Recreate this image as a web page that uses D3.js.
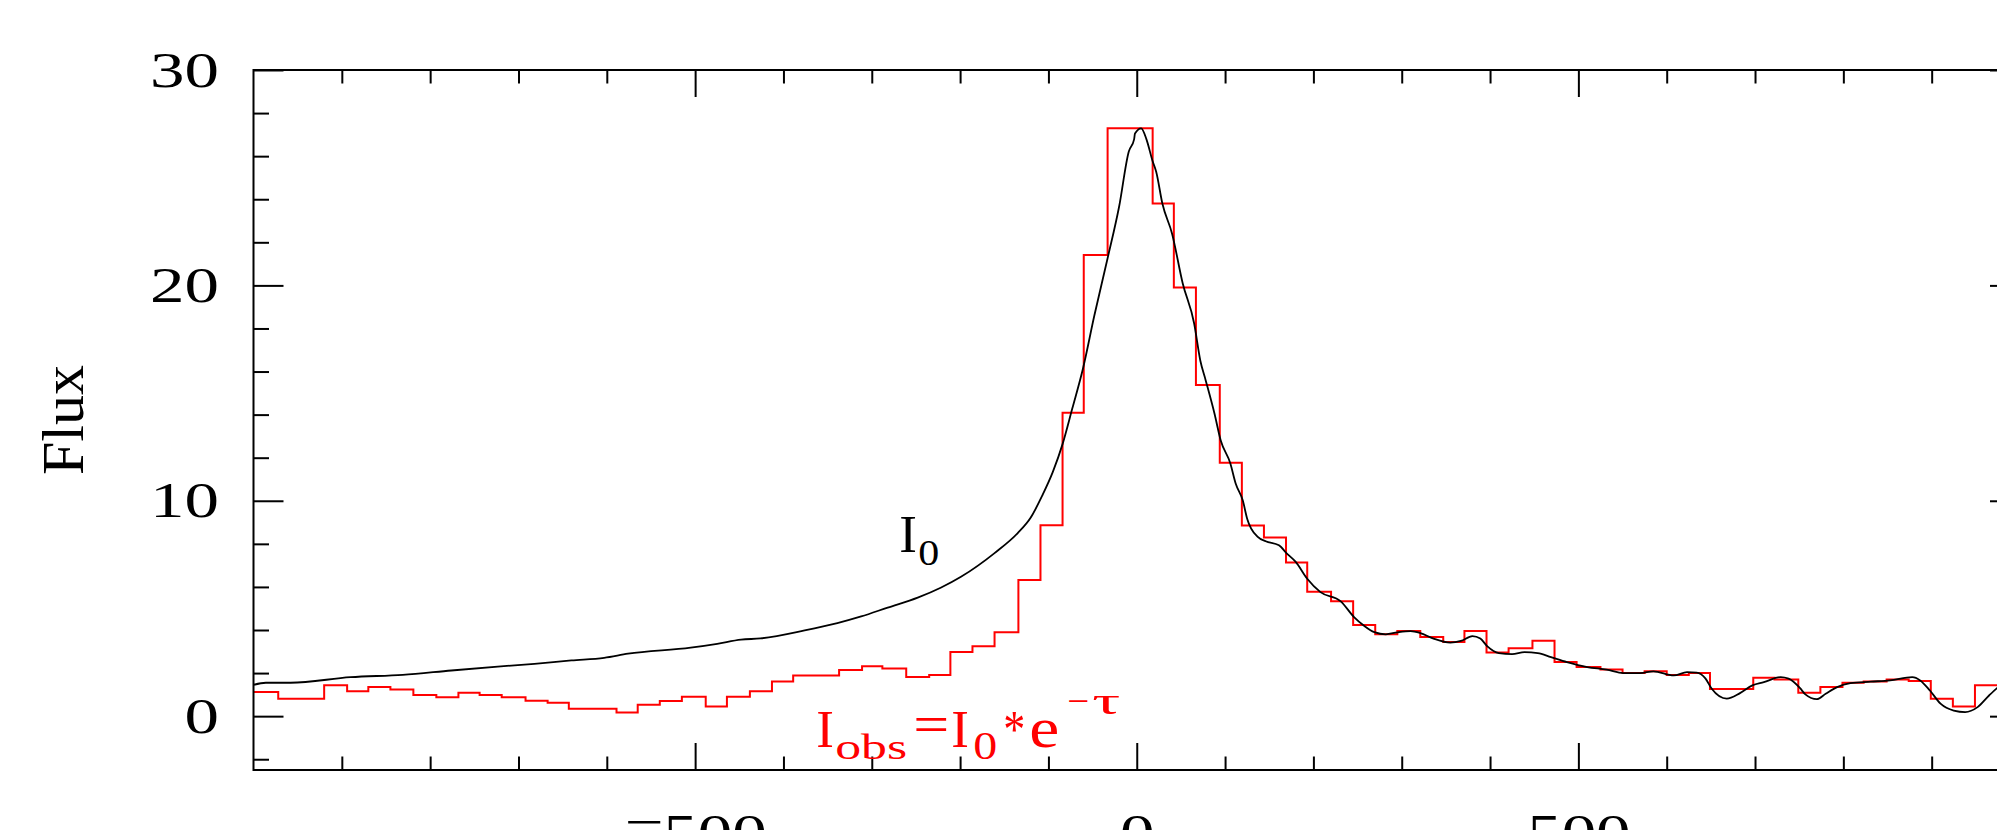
<!DOCTYPE html>
<html>
<head>
<meta charset="UTF-8">
<title>Flux profile</title>
<script src="https://d3js.org/d3.v7.min.js"></script>
<style>
  body { margin: 0; padding: 0; background: #fff; overflow: hidden; }
  svg { display: block; }
  .axis text { font-family: "Liberation Serif", serif; fill: #000; }
  .axis line { stroke: #000; stroke-width: 2; }
  .axis .domain { display: none; }
  .lbl { font-family: "Liberation Serif", serif; }
</style>
</head>
<body>
<svg id="chart"></svg>
<script>
// intrinsic profile I0 (black curve): velocity, flux
var velI0 = [-1000, -986, -958, -890, -831, -776, -720, -682, -640, -603, -576, -505, -475, -448, -426,
  -376, -339, -312, -282, -248, -222, -199, -161, -135, -120, -107, -95, -84, -73, -61, -48, -33, -20,
  -9, -3, -2, 5, 11, 18, 22, 29, 40, 52, 65, 72, 78, 88, 95, 106, 112, 120, 125, 137, 146, 161, 170,
  180, 193, 208, 231, 246, 257, 269, 282, 295, 310, 321, 336, 355, 367, 380, 389, 397, 410, 425, 439,
  454, 469, 487, 510, 532, 551, 570, 585, 608, 623, 634, 644, 651, 668, 683, 697, 710, 729, 738, 751,
  757, 770, 780, 793, 808, 831, 853, 878, 887, 898, 910, 925, 938, 952, 965, 974, 990];
var fluxI0 = [1.45, 1.55, 1.55, 1.81, 1.92, 2.12, 2.31, 2.43, 2.59, 2.71, 2.90, 3.18, 3.36, 3.55, 3.61,
  3.98, 4.32, 4.63, 5.04, 5.50, 5.96, 6.47, 7.57, 8.49, 9.22, 10.24, 11.34, 12.63, 14.28, 16.12, 18.60,
  21.26, 23.65, 26.22, 26.78, 27.05, 27.29, 26.78, 25.76, 25.28, 23.8, 22.4, 20.1, 18.23, 16.5, 15.6,
  14.05, 12.81, 11.73, 10.80, 10.02, 9.17, 8.32, 8.12, 7.93, 7.55, 7.16, 6.38, 5.76, 5.33, 4.60, 4.21,
  3.90, 3.80, 3.89, 3.95, 3.86, 3.60, 3.41, 3.49, 3.72, 3.60, 3.24, 2.93, 2.88, 2.97, 2.93, 2.74, 2.51,
  2.28, 2.16, 2.00, 2.00, 2.08, 1.89, 2.04, 2.02, 1.74, 1.27, 0.81, 1.07, 1.43, 1.58, 1.81, 1.74, 1.30,
  1.01, 0.79, 1.04, 1.35, 1.53, 1.60, 1.66, 1.81, 1.66, 1.19, 0.58, 0.26, 0.19, 0.42, 0.96, 1.30, 1.75];

// observed histogram (red): channel left edges (last one closes the last channel) and flux
var obsEdges = [-1000, -972, -920, -894, -870, -845, -819, -793, -768, -744, -719, -692, -667, -643,
  -589, -565, -540, -515, -488, -464, -438, -413, -389, -337, -311, -288, -261, -235, -211, -186, -161,
  -134, -109, -84, -60, -33, 18, 42, 67, 94, 119, 144, 169, 193, 220, 245, 270, 295, 321, 347, 371,
  396, 421, 448, 473, 498, 525, 550, 575, 600, 625, 649, 698, 722, 749, 774, 799, 823, 849, 874, 899,
  924, 949, 1000];
var obsFlux = [1.12, 0.81, 1.44, 1.16, 1.35, 1.24, 0.98, 0.88, 1.09, 0.98, 0.88, 0.71, 0.62, 0.34,
  0.17, 0.53, 0.70, 0.90, 0.45, 0.90, 1.16, 1.61, 1.89, 2.14, 2.32, 2.21, 1.82, 1.91, 2.98, 3.25, 3.90,
  6.32, 8.86, 14.09, 21.41, 27.29, 23.8, 19.9, 15.37, 11.76, 8.85, 8.30, 7.13, 5.78, 5.33, 4.23, 3.80,
  3.95, 3.67, 3.44, 3.95, 2.96, 3.15, 3.50, 2.51, 2.28, 2.17, 2.00, 2.08, 1.91, 2.00, 1.26, 1.78, 1.70,
  1.09, 1.35, 1.55, 1.61, 1.70, 1.63, 0.81, 0.45, 1.43];

var xMajor = [-500, 0, 500];
var xMajorLabels = ["\u2212500", "0", "500"];
var xMinor = [-900, -800, -700, -600, -400, -300, -200, -100, 100, 200, 300, 400, 600, 700, 800, 900];
var yMajor = [0, 10, 20, 30];
var yMajorLabels = ["0", "10", "20", "30"];
var yMinor = [-2, 2, 4, 6, 8, 12, 14, 16, 18, 22, 24, 26, 28];

var W = 1997, H = 830;
var margin = { top: 70, left: 253.5 };
var width = 1766.5, height = 700;

var svg = d3.select("#chart").attr("width", W).attr("height", H);

var x = d3.scaleLinear().domain([-1000, 1000]).range([margin.left, margin.left + width]);
var y = d3.scaleLinear().domain([-2.5, 30]).range([margin.top + height, margin.top]);

svg.append("defs").append("clipPath").attr("id", "plot-clip")
  .append("rect")
  .attr("x", x(-1000)).attr("y", y(30))
  .attr("width", x(1000) - x(-1000)).attr("height", y(-2.5) - y(30));

// ---- curves
var plot = svg.append("g").attr("clip-path", "url(#plot-clip)");

var obsPts = obsFlux.map(function (f, i) { return [obsEdges[i], f]; });
obsPts.push([obsEdges[obsEdges.length - 1], obsFlux[obsFlux.length - 1]]);

plot.append("path")
  .datum(obsPts)
  .attr("fill", "none")
  .attr("stroke", "#ff0000")
  .attr("stroke-width", 2)
  .attr("d", d3.line()
    .x(function (d) { return x(d[0]); })
    .y(function (d) { return y(d[1]); })
    .curve(d3.curveStepAfter));

plot.append("path")
  .datum(velI0.map(function (v, i) { return [v, fluxI0[i]]; }))
  .attr("fill", "none")
  .attr("stroke", "#000")
  .attr("stroke-width", 1.8)
  .attr("stroke-linejoin", "round")
  .attr("d", d3.line()
    .x(function (d) { return x(d[0]); })
    .y(function (d) { return y(d[1]); })
    .curve(d3.curveMonotoneX));

// ---- frame and ticks (all pointing inward)
svg.append("rect")
  .attr("x", x(-1000)).attr("y", y(30))
  .attr("width", x(1000) - x(-1000)).attr("height", y(-2.5) - y(30))
  .attr("fill", "none").attr("stroke", "#000").attr("stroke-width", 2);

var sx = 1.38; // wide digits

function addAxis(axis, tr) {
  return svg.append("g").attr("class", "axis").attr("transform", tr).call(axis);
}

// left
var left = addAxis(d3.axisLeft(y).tickValues(yMajor).tickSizeInner(-30).tickSizeOuter(0)
  .tickPadding(34.5).tickFormat(function (d, i) { return yMajorLabels[i]; }),
  "translate(" + x(-1000) + ",0)");
left.selectAll("text")
  .attr("font-size", 50)
  .attr("x", -34.5 / sx)
  .attr("transform", "scale(" + sx + ",1)");
addAxis(d3.axisLeft(y).tickValues(yMinor).tickSizeInner(-15.5).tickSizeOuter(0).tickFormat(""),
  "translate(" + x(-1000) + ",0)");

// right
addAxis(d3.axisRight(y).tickValues(yMajor).tickSizeInner(-30).tickSizeOuter(0).tickFormat(""),
  "translate(" + x(1000) + ",0)");
addAxis(d3.axisRight(y).tickValues(yMinor).tickSizeInner(-15.5).tickSizeOuter(0).tickFormat(""),
  "translate(" + x(1000) + ",0)");

// bottom
var bottom = addAxis(d3.axisBottom(x).tickValues(xMajor).tickSizeInner(-27).tickSizeOuter(0)
  .tickPadding(44).tickFormat(function (d, i) { return xMajorLabels[i]; }),
  "translate(0," + y(-2.5) + ")");
bottom.selectAll("text")
  .attr("font-size", 50)
  .attr("transform", "scale(" + sx + ",1)")
  .each(function (d) {
    // the minus sits at mid-digit height, as in the original font
    var s = d3.select(this), txt = s.text();
    if (txt.charAt(0) === "\u2212") {
      s.text(null);
      s.append("tspan").attr("dy", "0.51em").text("\u2212");
      s.append("tspan").attr("dy", "0.2em").text(txt.slice(1));
    }
  });
addAxis(d3.axisBottom(x).tickValues(xMinor).tickSizeInner(-13.5).tickSizeOuter(0).tickFormat(""),
  "translate(0," + y(-2.5) + ")");

// top
addAxis(d3.axisTop(x).tickValues(xMajor).tickSizeInner(-27).tickSizeOuter(0).tickFormat(""),
  "translate(0," + y(30) + ")");
addAxis(d3.axisTop(x).tickValues(xMinor).tickSizeInner(-13.5).tickSizeOuter(0).tickFormat(""),
  "translate(0," + y(30) + ")");

// ---- axis title
svg.append("text")
  .attr("class", "lbl")
  .attr("text-anchor", "middle")
  .attr("font-size", 60)
  .attr("textLength", 110)
  .attr("lengthAdjust", "spacingAndGlyphs")
  .attr("transform", "translate(83,420) rotate(-90)")
  .text("Flux");

// ---- annotations, anchored in data coordinates
function annotate(v, f, color, parts) {
  var g = svg.append("g")
    .attr("class", "lbl")
    .attr("fill", color)
    .attr("transform", "translate(" + x(v) + "," + y(f) + ")");
  parts.forEach(function (p) {
    var t = g.append("text")
      .attr("x", p.dx).attr("y", p.dy)
      .attr("font-size", p.size)
      .text(p.t);
    if (p.len) t.attr("textLength", p.len).attr("lengthAdjust", "spacingAndGlyphs");
  });
}

annotate(-269, 7.62, "#000", [
  { t: "I", dx: 0, dy: 0, size: 53 },
  { t: "0", dx: 19, dy: 13, size: 36, len: 21 }
]);

annotate(-363, -1.43, "#ff0000", [
  { t: "I", dx: 0, dy: 0, size: 53 },
  { t: "obs", dx: 19, dy: 12, size: 36, len: 72 },
  { t: "=", dx: 97, dy: -5, size: 53, len: 36 },
  { t: "I", dx: 135, dy: 0, size: 53 },
  { t: "0", dx: 157, dy: 12, size: 40, len: 24 },
  { t: "*", dx: 187, dy: 0, size: 53, len: 22 },
  { t: "e", dx: 213, dy: 0, size: 56, len: 30 },
  { t: "\u2212", dx: 251, dy: -33, size: 38, len: 22 },
  { t: "\u03c4", dx: 276, dy: -33, size: 38, len: 28 }
]);
</script>
</body>
</html>
